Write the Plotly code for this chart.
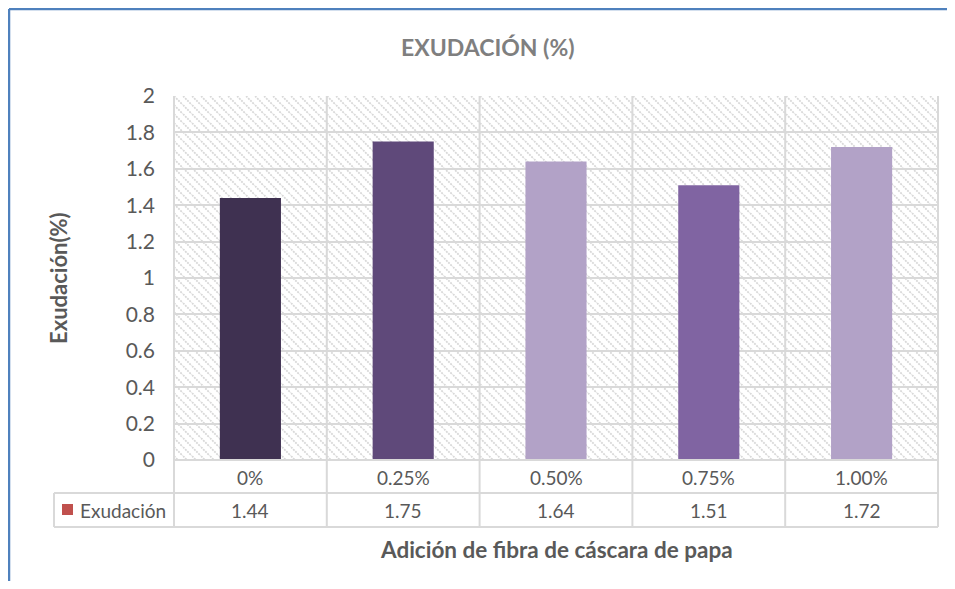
import base64
import plotly.graph_objects as go

# datos
categorias = ["0%", "0.25%", "0.50%", "0.75%", "1.00%"]
exudacion = [1.44, 1.75, 1.64, 1.51, 1.72]
colores = ["#3F3151", "#5F497A", "#B2A2C7", "#8064A2", "#B2A2C7"]
serie = "Exudación"

# la pagina deja 8px de margen en el body (sin barras de desplazamiento)
OFF = 8
W, H = 955 - 2 * OFF, 589 - 2 * OFF
# area de trazado en pixeles de la referencia
X0, X1, Y0, Y1 = 174, 938, 96, 460
pw, ph = X1 - X0, Y1 - Y0


def px(x):
    return (x - X0) / pw


def py(y):
    return (Y1 - y) / ph


FONT = "Lato"
GRIS = "#595959"
LINEA = "#D9D9D9"

# fondo rayado del area de trazado
svg = (
    f'<svg xmlns="http://www.w3.org/2000/svg" width="{pw}" height="{ph}">'
    '<defs><pattern id="p" patternUnits="userSpaceOnUse" width="9" height="9">'
    f'<path d="M0,0 L9,9 M-2,7 L2,11 M7,-2 L11,2" stroke="{LINEA}" stroke-width="1.8" '
    'stroke-dasharray="2,1"/></pattern></defs>'
    '<rect width="100%" height="100%" fill="white"/>'
    '<rect width="100%" height="100%" fill="url(#p)"/></svg>'
)
src = "data:image/svg+xml;base64," + base64.b64encode(svg.encode()).decode()

fig = go.Figure()
fig.add_trace(go.Bar(x=categorias, y=exudacion, marker_color=colores,
                     marker_line_width=0, width=0.4, name=serie))

shapes = []
n = len(categorias)
y_r1 = py(493)
y_r2 = py(527)
# lineas verticales (rejilla + tabla)
for i in range(n + 1):
    shapes.append(dict(type="line", xref="paper", yref="paper", x0=i / n, x1=i / n,
                       y0=y_r2, y1=1, line=dict(color=LINEA, width=2), layer="below"))
# lineas horizontales de la tabla
shapes.append(dict(type="line", xref="paper", yref="paper", x0=0, x1=1, y0=0, y1=0,
                   line=dict(color=LINEA, width=2)))
for yy in (y_r1, y_r2):
    shapes.append(dict(type="line", xref="paper", yref="paper", x0=px(54), x1=1, y0=yy, y1=yy,
                       line=dict(color=LINEA, width=2)))
shapes.append(dict(type="line", xref="paper", yref="paper", x0=px(54), x1=px(54), y0=y_r1, y1=y_r2,
                   line=dict(color=LINEA, width=2)))
# clave de la serie
shapes.append(dict(type="rect", xref="paper", yref="paper", x0=px(62), x1=px(73),
                   y0=py(515), y1=py(504), fillcolor="#C0504D", line_width=0))
# borde azul del grafico (hasta el borde de la figura)
shapes.append(dict(type="line", xref="paper", yref="paper", x0=px(9), x1=px(W + OFF),
                   y0=py(9), y1=py(9), line=dict(color="#4F81BD", width=2.5)))
shapes.append(dict(type="line", xref="paper", yref="paper", x0=px(9), x1=px(9),
                   y0=py(9), y1=py(H + OFF), line=dict(color="#4F81BD", width=2.5)))


def nota(x, y, text, size, color=GRIS, **kw):
    d = dict(x=x, y=y, xref="paper", yref="paper", text=text, showarrow=False,
             xanchor="center", yanchor="middle", font=dict(family=FONT, size=size, color=color))
    d.update(kw)
    return d


annotations = []
for i, (c, v) in enumerate(zip(categorias, exudacion)):
    xc = (i + 0.5) / n
    annotations.append(nota(xc, py(477), c, 19))
    annotations.append(nota(xc, py(510), f"{v:.2f}", 19))
annotations.append(nota(px(78), py(510), serie, 19, xanchor="left"))
# titulos
annotations.append(nota(px(488), py(47), "<b>EXUDACIÓN (%)</b>", 23, color="#7F7F7F"))
annotations.append(nota(0.5, py(549), "<b>Adición de fibra de cáscara de papa</b>", 22.5))
annotations.append(nota(px(58), 0.5, "<b>Exudación(%)</b>", 22, textangle=-90))

fig.update_layout(
    width=W, height=H,
    margin=dict(l=X0 - OFF, r=W - (X1 - OFF), t=Y0 - OFF, b=H - (Y1 - OFF)),
    paper_bgcolor="white",
    plot_bgcolor="white",
    showlegend=False,
    shapes=shapes,
    annotations=annotations,
    images=[dict(source=src, xref="paper", yref="paper", x=0, y=1, sizex=1, sizey=1,
                 sizing="stretch", xanchor="left", yanchor="top", layer="below")],
    xaxis=dict(range=[-0.5, n - 0.5], showticklabels=False, showgrid=False,
               zeroline=False, fixedrange=True),
    yaxis=dict(range=[0, 2], dtick=0.2, gridcolor=LINEA, gridwidth=2, zeroline=False,
               showline=False, ticks="", ticklabelstandoff=18,
               tickfont=dict(family=FONT, size=21, color=GRIS)),
)

fig.write_html("out.html")
